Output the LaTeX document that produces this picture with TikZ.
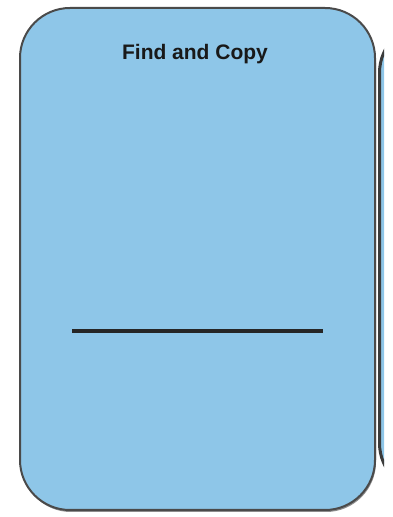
\documentclass[tikz,border=0pt]{standalone}
\usepackage{fontspec}
\setmainfont{Liberation Sans}
\definecolor{boxfill}{HTML}{8EC6E8}
\definecolor{boxedge}{HTML}{4A4A4A}
\begin{document}
\begin{tikzpicture}[x=1pt,y=1pt,
  panel/.style={fill=boxfill,draw=boxedge,line width=2pt,rounded corners=50pt},
  title/.style={font=\bfseries\fontsize{21}{24}\selectfont,text=black!90,inner sep=0pt}]
\useasboundingbox (0,0) rectangle (393,517);
% second panel peeking at right
\begin{scope}
\clip (370,0) rectangle (384,517);
\draw[panel,draw=boxedge!80!black,line width=3pt] (379.5,24) rectangle (700,494);
\end{scope}
% main panel with soft shadow
\fill[black!45,rounded corners=50pt] (21,5) rectangle (376,504);
\draw[panel] (20,7) rectangle (375,509);
\node[title] (t) at (195,463) {Find and Copy};
\coordinate (la) at (72,186);
\coordinate (lb) at (323,186);
\draw[line width=3.5pt,color=black!85] (la) -- (lb);
\end{tikzpicture}
\end{document}
